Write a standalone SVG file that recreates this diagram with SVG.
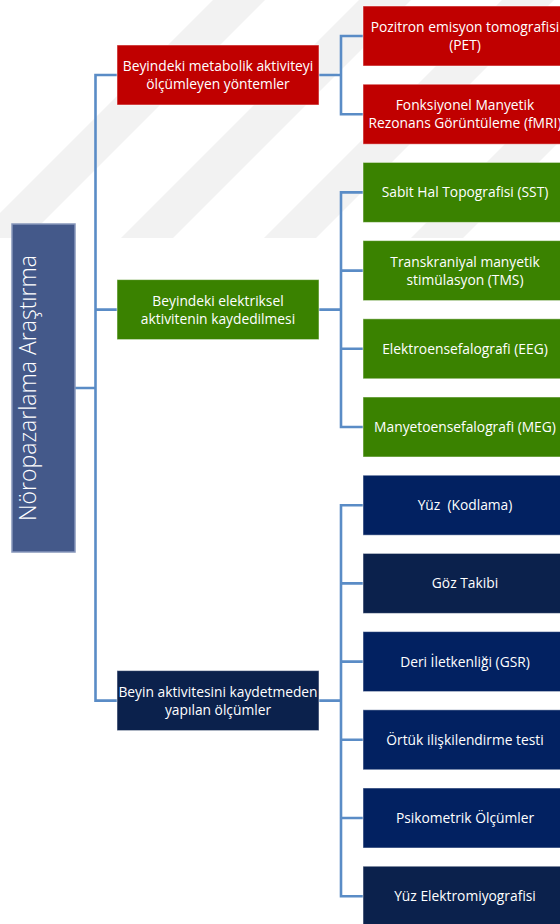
<svg xmlns="http://www.w3.org/2000/svg" width="560" height="924" viewBox="0 0 560 924">
<style>
.t{font-family:"Open Sans","Noto Sans","Liberation Sans",sans-serif;fill:#fff;font-size:13.8px;text-anchor:middle}
.c{stroke:#5a8cc6;stroke-width:2.6;fill:none}
.box{stroke:#fff;stroke-opacity:.5;stroke-width:1}
.red{fill:#c00000}
.grn{fill:#3a8200}
.nv{fill:#022161}
.nv2{fill:#0b214c}
</style>
<defs>
<clipPath id="wm"><rect x="0" y="0" width="560" height="238"/></clipPath>
</defs>
<rect width="560" height="924" fill="#fff"/>
<g id="watermark" clip-path="url(#wm)" fill="#f2f2f2">
<polygon points="-25,238 27,238 265,0 213,0"/>
<polygon points="121,238 173,238 411,0 359,0"/>
<polygon points="264,238 316,238 554,0 502,0"/>
<polygon points="411,238 463,238 701,0 649,0"/>
</g>
<g id="connectors" class="c">
<path d="M117 75 H95.5 V700.6 H117 M95.5 309.6 H117 M75 388 H95.5"/>
<path d="M319 75 H341 M363 36 H341 V114.2 H363"/>
<path d="M319 309.6 H341 M363 192.4 H341 V427 H363 M341 270.6 H363 M341 348.8 H363"/>
<path d="M319 700.6 H341 M363 505.2 H341 V896.2 H363 M341 583.4 H363 M341 661.6 H363 M341 739.8 H363 M341 818 H363"/>
</g>
<g id="root">
<rect x="12" y="224" width="63" height="328" fill="#44598a" stroke="#8696bb" stroke-width="1.5"/>
<text class="t" style="font-size:23px;font-weight:300" transform="translate(36,388) rotate(-90)">Nöropazarlama Araştırma</text>
</g>
<g id="n-metabolik">
<rect class="box red" x="117" y="45" width="202" height="60"/>
<text class="t" x="218" y="71">Beyindeki metabolik aktiviteyi</text>
<text class="t" x="218" y="89">ölçümleyen yöntemler</text>
</g>
<g id="n-elektriksel">
<rect class="box grn" x="117" y="279.6" width="202" height="60"/>
<text class="t" x="218" y="305.6">Beyindeki elektriksel</text>
<text class="t" x="218" y="323.6">aktivitenin kaydedilmesi</text>
</g>
<g id="n-olcumler">
<rect class="box nv2" x="117" y="670.6" width="202" height="60"/>
<text class="t" x="218" y="696.6">Beyin aktivitesini kaydetmeden</text>
<text class="t" x="218" y="714.6">yapılan ölçümler</text>
</g>
<g id="n-pet">
<rect class="box red" x="363" y="6" width="204" height="60"/>
<text class="t" x="465" y="32">Pozitron emisyon tomografisi</text>
<text class="t" x="465" y="50">(PET)</text>
</g>
<g id="n-fmri">
<rect class="box red" x="363" y="84.2" width="204" height="60"/>
<text class="t" x="465" y="110.2">Fonksiyonel Manyetik</text>
<text class="t" x="465" y="128.2">Rezonans Görüntüleme (fMRI)</text>
</g>
<g id="n-sst">
<rect class="box grn" x="363" y="162.4" width="204" height="60"/>
<text class="t" x="465" y="197.4">Sabit Hal Topografisi (SST)</text>
</g>
<g id="n-tms">
<rect class="box grn" x="363" y="240.6" width="204" height="60"/>
<text class="t" x="465" y="266.6">Transkraniyal manyetik</text>
<text class="t" x="465" y="284.6">stimülasyon (TMS)</text>
</g>
<g id="n-eeg">
<rect class="box grn" x="363" y="318.8" width="204" height="60"/>
<text class="t" x="465" y="353.8">Elektroensefalografi (EEG)</text>
</g>
<g id="n-meg">
<rect class="box grn" x="363" y="397" width="204" height="60"/>
<text class="t" x="465" y="432">Manyetoensefalografi (MEG)</text>
</g>
<g id="n-yuz">
<rect class="box nv" x="363" y="475.2" width="204" height="60"/>
<text class="t" x="465" y="510.2">Yüz&#160; (Kodlama)</text>
</g>
<g id="n-goz">
<rect class="box nv2" x="363" y="553.4" width="204" height="60"/>
<text class="t" x="465" y="588.4">Göz Takibi</text>
</g>
<g id="n-gsr">
<rect class="box nv" x="363" y="631.6" width="204" height="60"/>
<text class="t" x="465" y="666.6">Deri İletkenliği (GSR)</text>
</g>
<g id="n-ortuk">
<rect class="box nv" x="363" y="709.8" width="204" height="60"/>
<text class="t" x="465" y="744.8">Örtük ilişkilendirme testi</text>
</g>
<g id="n-psiko">
<rect class="box nv" x="363" y="788" width="204" height="60"/>
<text class="t" x="465" y="823">Psikometrik Ölçümler</text>
</g>
<g id="n-emg">
<rect class="box nv2" x="363" y="866.2" width="204" height="60"/>
<text class="t" x="465" y="901.2">Yüz Elektromiyografisi</text>
</g>
</svg>
